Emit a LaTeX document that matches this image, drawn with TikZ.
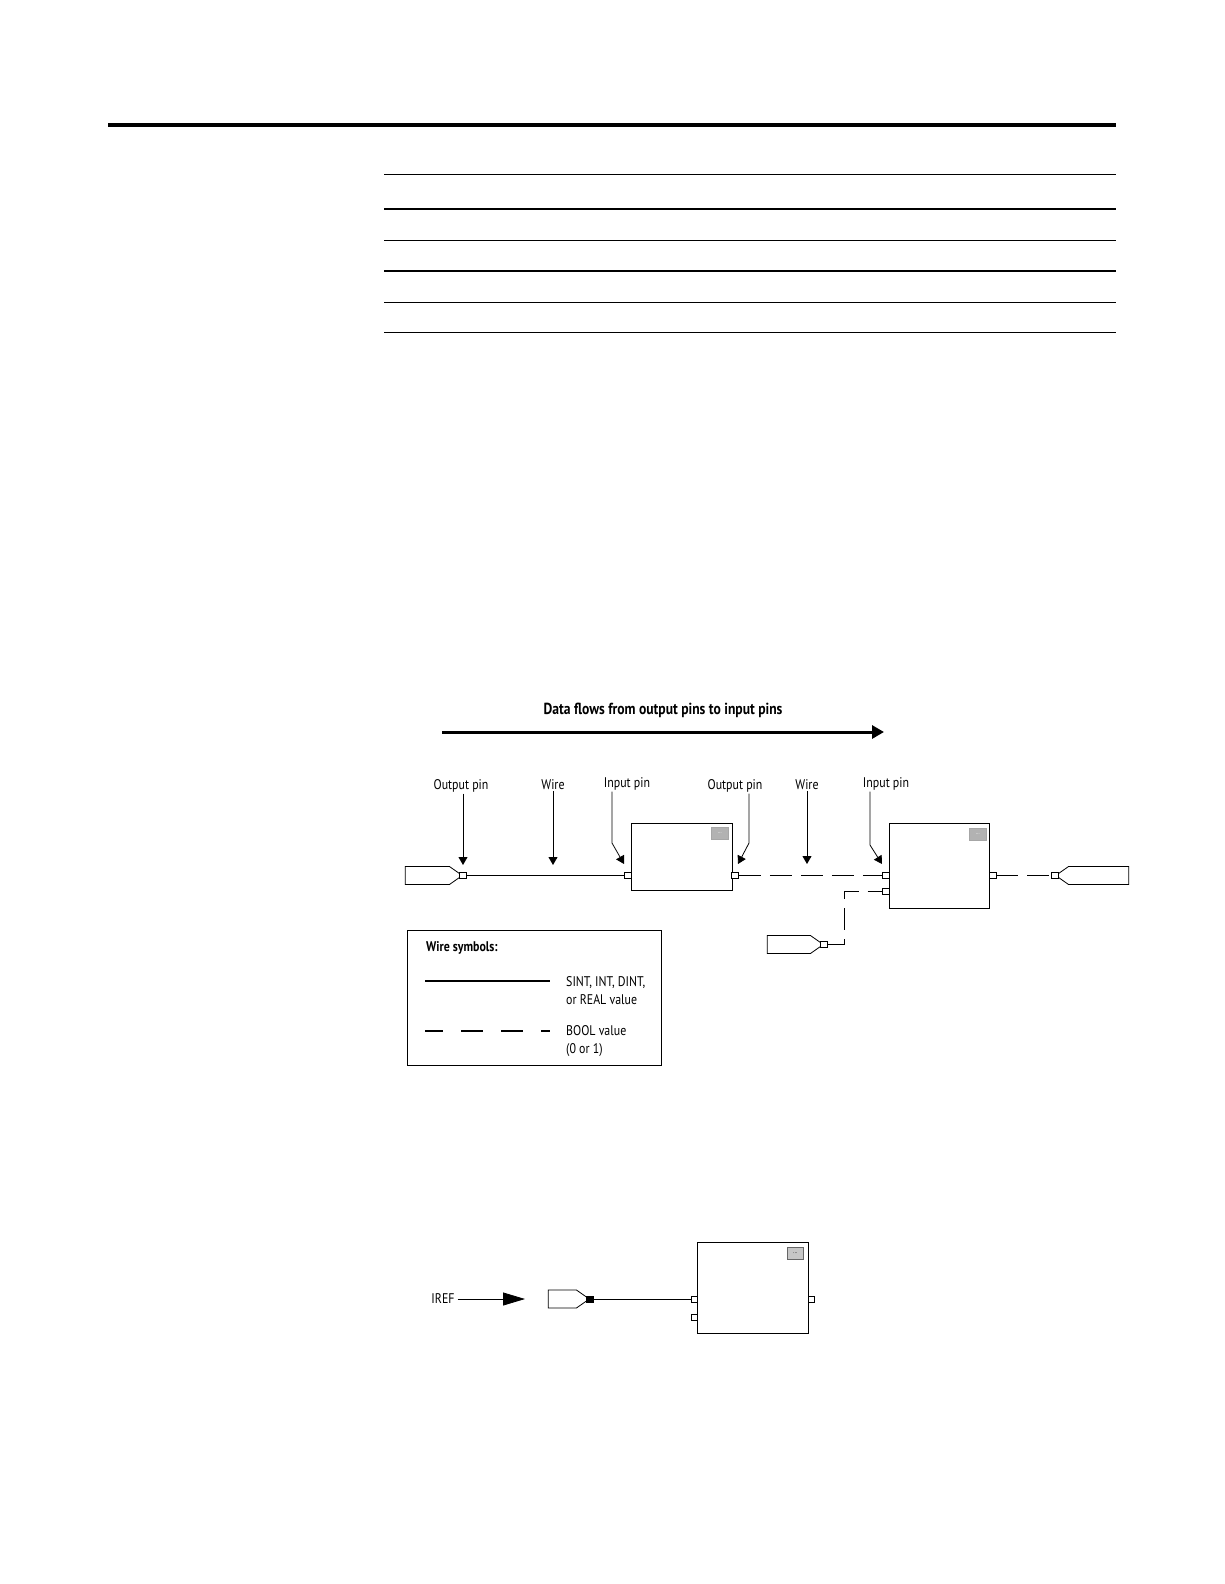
\documentclass[tikz,border=0pt]{standalone}
\usepackage{fontspec}
\setmainfont{PT Sans}[FakeStretch=0.85]
\usetikzlibrary{arrows.meta, positioning, shapes.symbols, calc}

\begin{document}
\begin{tikzpicture}[
    x=1pt, y=-1pt,
    lbl/.style={font=\fontsize{14}{16}\selectfont, inner sep=1.5pt, anchor=base},
    ttl/.style={font=\bfseries\fontsize{16}{18}\selectfont, inner sep=1pt, anchor=base},
    txt/.style={font=\fontsize{14}{16}\selectfont, inner sep=0pt, anchor=base west},
    blk/.style={rectangle, draw=black, line width=1pt, anchor=north west, inner sep=0pt},
    pin/.style={rectangle, draw=black, fill=white, line width=0.7pt, minimum width=7pt, minimum height=6pt, inner sep=0pt},
    dotpin/.style={pin, path picture={\fill (path picture bounding box.center) circle (1pt);}},
    tagbox/.style={signal, signal pointer angle=70, draw=black, fill=white, line width=0.8pt, minimum height=18pt, inner sep=0pt},
    btn/.style={rectangle, fill=gray!60, draw=gray!70, line width=0.6pt, minimum width=17pt, minimum height=12pt, inner sep=0pt, anchor=north west, font=\fontsize{6}{6}\selectfont, text=white},
    ptr/.style={-{Triangle[length=8pt,width=9pt]}, line width=0.8pt},
    flow/.style={-{Triangle[length=12pt,width=13pt]}, line width=3pt},
    wire/.style={line width=1.3pt},
    boolwire/.style={line width=1.3pt, dash pattern=on 22pt off 9pt},
    rule/.style={line width=1pt},
]
    \useasboundingbox (0,0) rectangle (1224,1584);

    % page rules
    \draw[line width=4pt] (108,125) -- (1116,125);
    \draw[rule] (384,174) -- (1116,174);
    \draw[rule, line width=2pt] (384,209) -- (1116,209);
    \draw[rule] (384,240) -- (1116,240);
    \draw[rule, line width=2pt] (384,271) -- (1116,271);
    \draw[rule] (384,302) -- (1116,302);
    \draw[rule] (384,332) -- (1116,332);

    % data flow heading
    \node[ttl] (flowtxt) at (663,714) {Data flows from output pins to input pins};
    \coordinate (flowA) at (442,732);
    \coordinate (flowB) at (884,732);
    \draw[flow] (flowA) -- (flowB);

    % blocks
    \node[blk, minimum width=101pt, minimum height=67pt] (blk1) at (631,823) {};
    \node[blk, minimum width=100pt, minimum height=85pt] (blk2) at (889,823) {};
    \node[btn] (btn1) at (711,827) {...};
    \node[btn] (btn2) at (969,828) {...};

    % tags
    \node[tagbox, signal to=east, minimum width=57pt, anchor=east] (tag1) at (463,875.5) {};
    \node[dotpin, right=-4pt of tag1] (t1pin) {};
    \node[tagbox, signal to=east, minimum width=56pt, anchor=east] (tag3) at (824,944.5) {};
    \node[dotpin, right=-4pt of tag3] (t3pin) {};
    \node[tagbox, signal to=west, minimum width=73pt, anchor=west] (tag4) at (1055,875.5) {};
    \node[dotpin, left=-4pt of tag4] (t4pin) {};

    % pins
    \node[dotpin] (b1in) at (627.5,875.5) {};
    \node[dotpin] (b1out) at (735,875.5) {};
    \node[dotpin] (b2in1) at (885.5,875.5) {};
    \node[dotpin] (b2in2) at (885.5,891.5) {};
    \node[dotpin] (b2out) at (992.5,875.5) {};

    % wires
    \draw[wire] (t1pin) -- (b1in);
    \draw[boolwire] (b1out) -- (b2in1);
    \draw[boolwire] (b2out) -- (t4pin);
    \coordinate (bend) at (844,944.5);
    \draw[boolwire, line width=0.9pt] (t3pin.east) -- (bend) |- (b2in2.west);

    % labels
    \node[lbl] (lOut1) at (461,789) {Output pin};
    \node[lbl] (lWire1) at (553,789) {Wire};
    \node[lbl] (lIn1) at (627,787) {Input pin};
    \node[lbl] (lOut2) at (735,789) {Output pin};
    \node[lbl] (lWire2) at (807,789) {Wire};
    \node[lbl] (lIn2) at (886,787) {Input pin};

    \coordinate (tOut1) at (463,865);
    \coordinate (tWire1) at (553,865);
    \coordinate (kIn1) at (612,843);
    \coordinate (tIn1) at (624,864);
    \coordinate (kOut2) at (749,843);
    \coordinate (tOut2) at (738,864);
    \coordinate (tWire2) at (807,864);
    \coordinate (kIn2) at (870,845);
    \coordinate (tIn2) at (882,864);

    \draw[ptr] (lOut1.south -| tOut1) -- (tOut1);
    \draw[ptr] (lWire1.south -| tWire1) -- (tWire1);
    \draw[ptr] (lIn1.south -| kIn1) -- (kIn1) -- (tIn1);
    \draw[ptr] (lOut2.south -| kOut2) -- (kOut2) -- (tOut2);
    \draw[ptr] (lWire2.south -| tWire2) -- (tWire2);
    \draw[ptr] (lIn2.south -| kIn2) -- (kIn2) -- (tIn2);

    % legend
    \node[blk, line width=0.8pt, minimum width=254pt, minimum height=135pt] (legend) at (407,930) {};
    \node[txt, font=\bfseries\fontsize{14}{16}\selectfont] (legtitle) at (426,951) {Wire symbols:};
    \coordinate (symA) at (425,981);
    \coordinate (symB) at (550,981);
    \draw[wire, line width=2pt] (symA) -- (symB);
    \node[txt] (legA1) at (566,986) {SINT, INT, DINT,};
    \node[txt] (legA2) at (566,1004) {or REAL value};
    \coordinate (symC) at (425,1031);
    \coordinate (symD) at (550,1031);
    \draw[line width=2pt, dash pattern=on 22pt off 18pt, dash phase=4pt] (symC) -- (symD);
    \node[txt] (legB1) at (566,1035) {BOOL value};
    \node[txt] (legB2) at (566,1053) {(0 or 1)};

    % second figure
    \node[lbl, inner sep=0pt] (iref) at (443,1303) {IREF};
    \coordinate (irefTip) at (525,1299);
    \draw[-{Triangle[length=22pt,width=13pt]}, line width=0.8pt] ([xshift=3pt]iref.east |- irefTip) -- (irefTip);
    \node[tagbox, signal to=east, minimum width=41pt, anchor=east] (tag5) at (590,1299) {};
    \node[pin, fill=black, right=-4pt of tag5] (t5pin) {};
    \node[blk, minimum width=111pt, minimum height=91pt] (blk3) at (697,1242) {};
    \node[btn, draw=gray!80!black, fill=gray!45, text=black, minimum width=16pt] (btn3) at (787,1247) {...};
    \node[pin, minimum width=6pt] (b3in1) at (694.5,1299) {};
    \node[pin, minimum width=6pt] (b3in2) at (694.5,1317.5) {};
    \node[pin, minimum width=6pt] (b3out) at (811,1299) {};
    \draw[line width=0.8pt] (t5pin) -- (b3in1);
\end{tikzpicture}
\end{document}
